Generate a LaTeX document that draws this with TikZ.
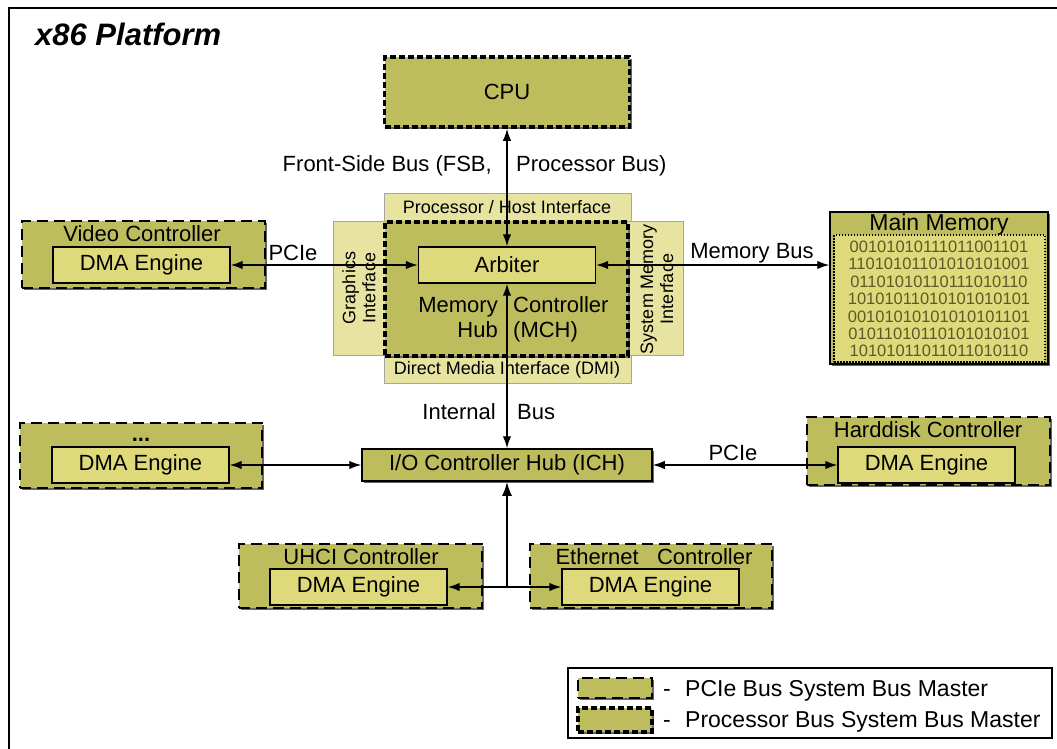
\documentclass[tikz,border=0pt]{standalone}
\usepackage{fontspec}
\setmainfont{Liberation Sans}
\usetikzlibrary{arrows.meta,shadows}

\definecolor{boxolive}{RGB}{190,189,94}
\definecolor{dmafill}{RGB}{222,217,122}
\definecolor{ifacefill}{RGB}{231,228,162}
\definecolor{bitcolor}{RGB}{95,88,40}

\tikzset{
  boxshadow/.style={drop shadow={shadow xshift=2pt, shadow yshift=-2pt, fill=black!60, opacity=1}},
  pciebox/.style={draw=black, line width=2.2pt, dash pattern=on 11pt off 6pt, fill=boxolive, boxshadow},
  procbox/.style={draw=black, line width=3.6pt, dash pattern=on 6pt off 3pt, fill=boxolive, boxshadow},
  plainbox/.style={draw=black, line width=1.5pt, fill=boxolive, boxshadow},
  dmabox/.style={draw=black, line width=1.4pt, fill=dmafill, minimum width=177pt, minimum height=36pt},
  ifacebar/.style={draw=black!35, line width=0.8pt, fill=ifacefill},
  ifacetext/.style={font=\fontsize{18}{20}\selectfont},
  legendtext/.style={anchor=base west, font=\fontsize{23}{25}\selectfont},
  link/.style={line width=1.4pt, {Latex[length=12pt,width=8.5pt]}-{Latex[length=12pt,width=8.5pt]}},
  uplink/.style={line width=2pt, -{Latex[length=14pt,width=10pt]}},
}

\begin{document}
\begin{tikzpicture}[x=1pt, y=-1pt, font=\fontsize{22}{24}\selectfont,
  every node/.append style={inner sep=0pt}]
\useasboundingbox (0,0) rectangle (1057,749);
\fill[white] (0,0) rectangle (1057,749);

% platform frame and heading
\draw[line width=1.5pt] (9,749) -- (9,8) -- (1057,8);
\node[anchor=base west, font=\fontsize{31}{34}\selectfont\bfseries\itshape] (title) at (35,46) {x86 Platform};

% processor
\node[procbox, minimum width=245pt, minimum height=70pt] (cpu) at (507,92) {CPU};

% memory controller hub with its four interfaces
\node[ifacebar, minimum width=247pt, minimum height=190pt] (hostbar) at (507.5,288) {};
\node[ifacebar, minimum width=350pt, minimum height=134pt] (sidebar) at (508,288) {};
\node[procbox, minimum width=243pt, minimum height=134pt] (mch) at (506.5,289) {};
\node[ifacetext] (hostif) at (507,207) {Processor / Host Interface};
\node[ifacetext] (dmi) at (507,370) {Direct Media Interface (DMI)};
\node[ifacetext, rotate=90, align=center] (gfxif) at (359,288) {Graphics\\Interface};
\node[ifacetext, rotate=90, align=center] (memif) at (657,289) {System Memory\\Interface};
\node[dmabox] (arb) at (507,265) {Arbiter};
\node[anchor=base east] (mchl1) at (498,312) {Memory};
\node[anchor=base east] (mchl2) at (498,337) {Hub};
\node[anchor=base west] (mchr1) at (513,312) {Controller};
\node[anchor=base west] (mchr2) at (513,337) {(MCH)};

% main memory
\node[draw=black, line width=1.5pt, fill=boxolive, minimum width=218pt, minimum height=152pt, boxshadow] (mem) at (939,288) {};
\node[font=\fontsize{23}{25}\selectfont] (memtitle) at (939,225) {Main Memory};
\node[draw=black, line width=1.5pt, dash pattern=on 1.5pt off 1.5pt, fill=dmafill, minimum width=211pt, minimum height=127pt] (cells) at (939.5,298.5) {};
\node[align=center, text=bitcolor, font=\fontsize{16.5}{17.4}\selectfont] (bits) at (939,299) {%
00101010111011001101\\11010101101010101001\\01101010110111010110\\10101011010101010101\\%
00101010101010101101\\01011010110101010101\\10101011011011010110};

% video controller
\node[pciebox, minimum width=243pt, minimum height=67pt] (video) at (143.5,254.5) {};
\node (videotitle) at (142,234) {Video Controller};
\node[dmabox] (videodma) at (141.5,265) {DMA Engine};

% further PCIe device
\node[pciebox, minimum width=242pt, minimum height=65pt] (misc) at (141,455.5) {};
\node[anchor=base, font=\fontsize{22}{24}\selectfont\bfseries] (misctitle) at (141,441) {...};
\node[dmabox] (miscdma) at (140.5,465) {DMA Engine};

% I/O controller hub
\node[plainbox, minimum width=290pt, minimum height=32pt] (ich) at (507,465) {I/O Controller Hub (ICH)};

% harddisk controller
\node[pciebox, minimum width=243pt, minimum height=68pt] (hdd) at (928.5,451) {};
\node (hddtitle) at (928,430) {Harddisk Controller};
\node[dmabox] (hdddma) at (926.5,465) {DMA Engine};

% UHCI and Ethernet controllers
\node[pciebox, minimum width=243pt, minimum height=64pt] (uhci) at (360.5,576) {};
\node (uhcititle) at (361,557) {UHCI Controller};
\node[dmabox] (uhcidma) at (358.5,587) {DMA Engine};
\node[pciebox, minimum width=242pt, minimum height=64pt] (eth) at (651,576) {};
\node (ethtitle) at (654,557) {Ethernet\ \ \ Controller};
\node[dmabox] (ethdma) at (650.5,587) {DMA Engine};
\coordinate (busjoin) at (507,587);

% buses
\draw[link] (arb.north) -- (cpu.south);
\node[anchor=base east] (fsbl) at (492,171) {Front-Side Bus (FSB,};
\node[anchor=base west] (fsbr) at (516,171) {Processor Bus)};
\draw[link] (videodma.east) -- (arb.west);
\node[anchor=base] (pciegfx) at (293,260) {PCIe};
\draw[link] (arb.east) -- (arb.east -| mem.west);
\node[anchor=base] (membus) at (752,258) {Memory Bus};
\draw[link] (ich.north) -- (arb.south);
\node[anchor=base east] (intl) at (496,419) {Internal};
\node[anchor=base west] (intr) at (517,419) {Bus};
\draw[link] (miscdma.east) -- (ich.west);
\draw[link] (ich.east) -- (hdddma.west);
\node[anchor=base] (pciehdd) at (733,460) {PCIe};
\draw[uplink] (busjoin) -- (ich.south);
\draw[link] (uhcidma.east) -- (ethdma.west);

% legend
\node[draw=black, line width=1.5pt, fill=white, minimum width=484pt, minimum height=70pt] (legend) at (810,703) {};
\node[pciebox, minimum width=74pt, minimum height=20pt] (swpcie) at (615,688) {};
\node[procbox, minimum width=74pt, minimum height=24pt] (swproc) at (615,720) {};
\node[legendtext] (dash1) at (663,696) {-};
\node[legendtext] (lab1) at (685,696) {PCIe Bus System Bus Master};
\node[legendtext] (dash2) at (663,727) {-};
\node[legendtext] (lab2) at (685,727) {Processor Bus System Bus Master};
\end{tikzpicture}
\end{document}
